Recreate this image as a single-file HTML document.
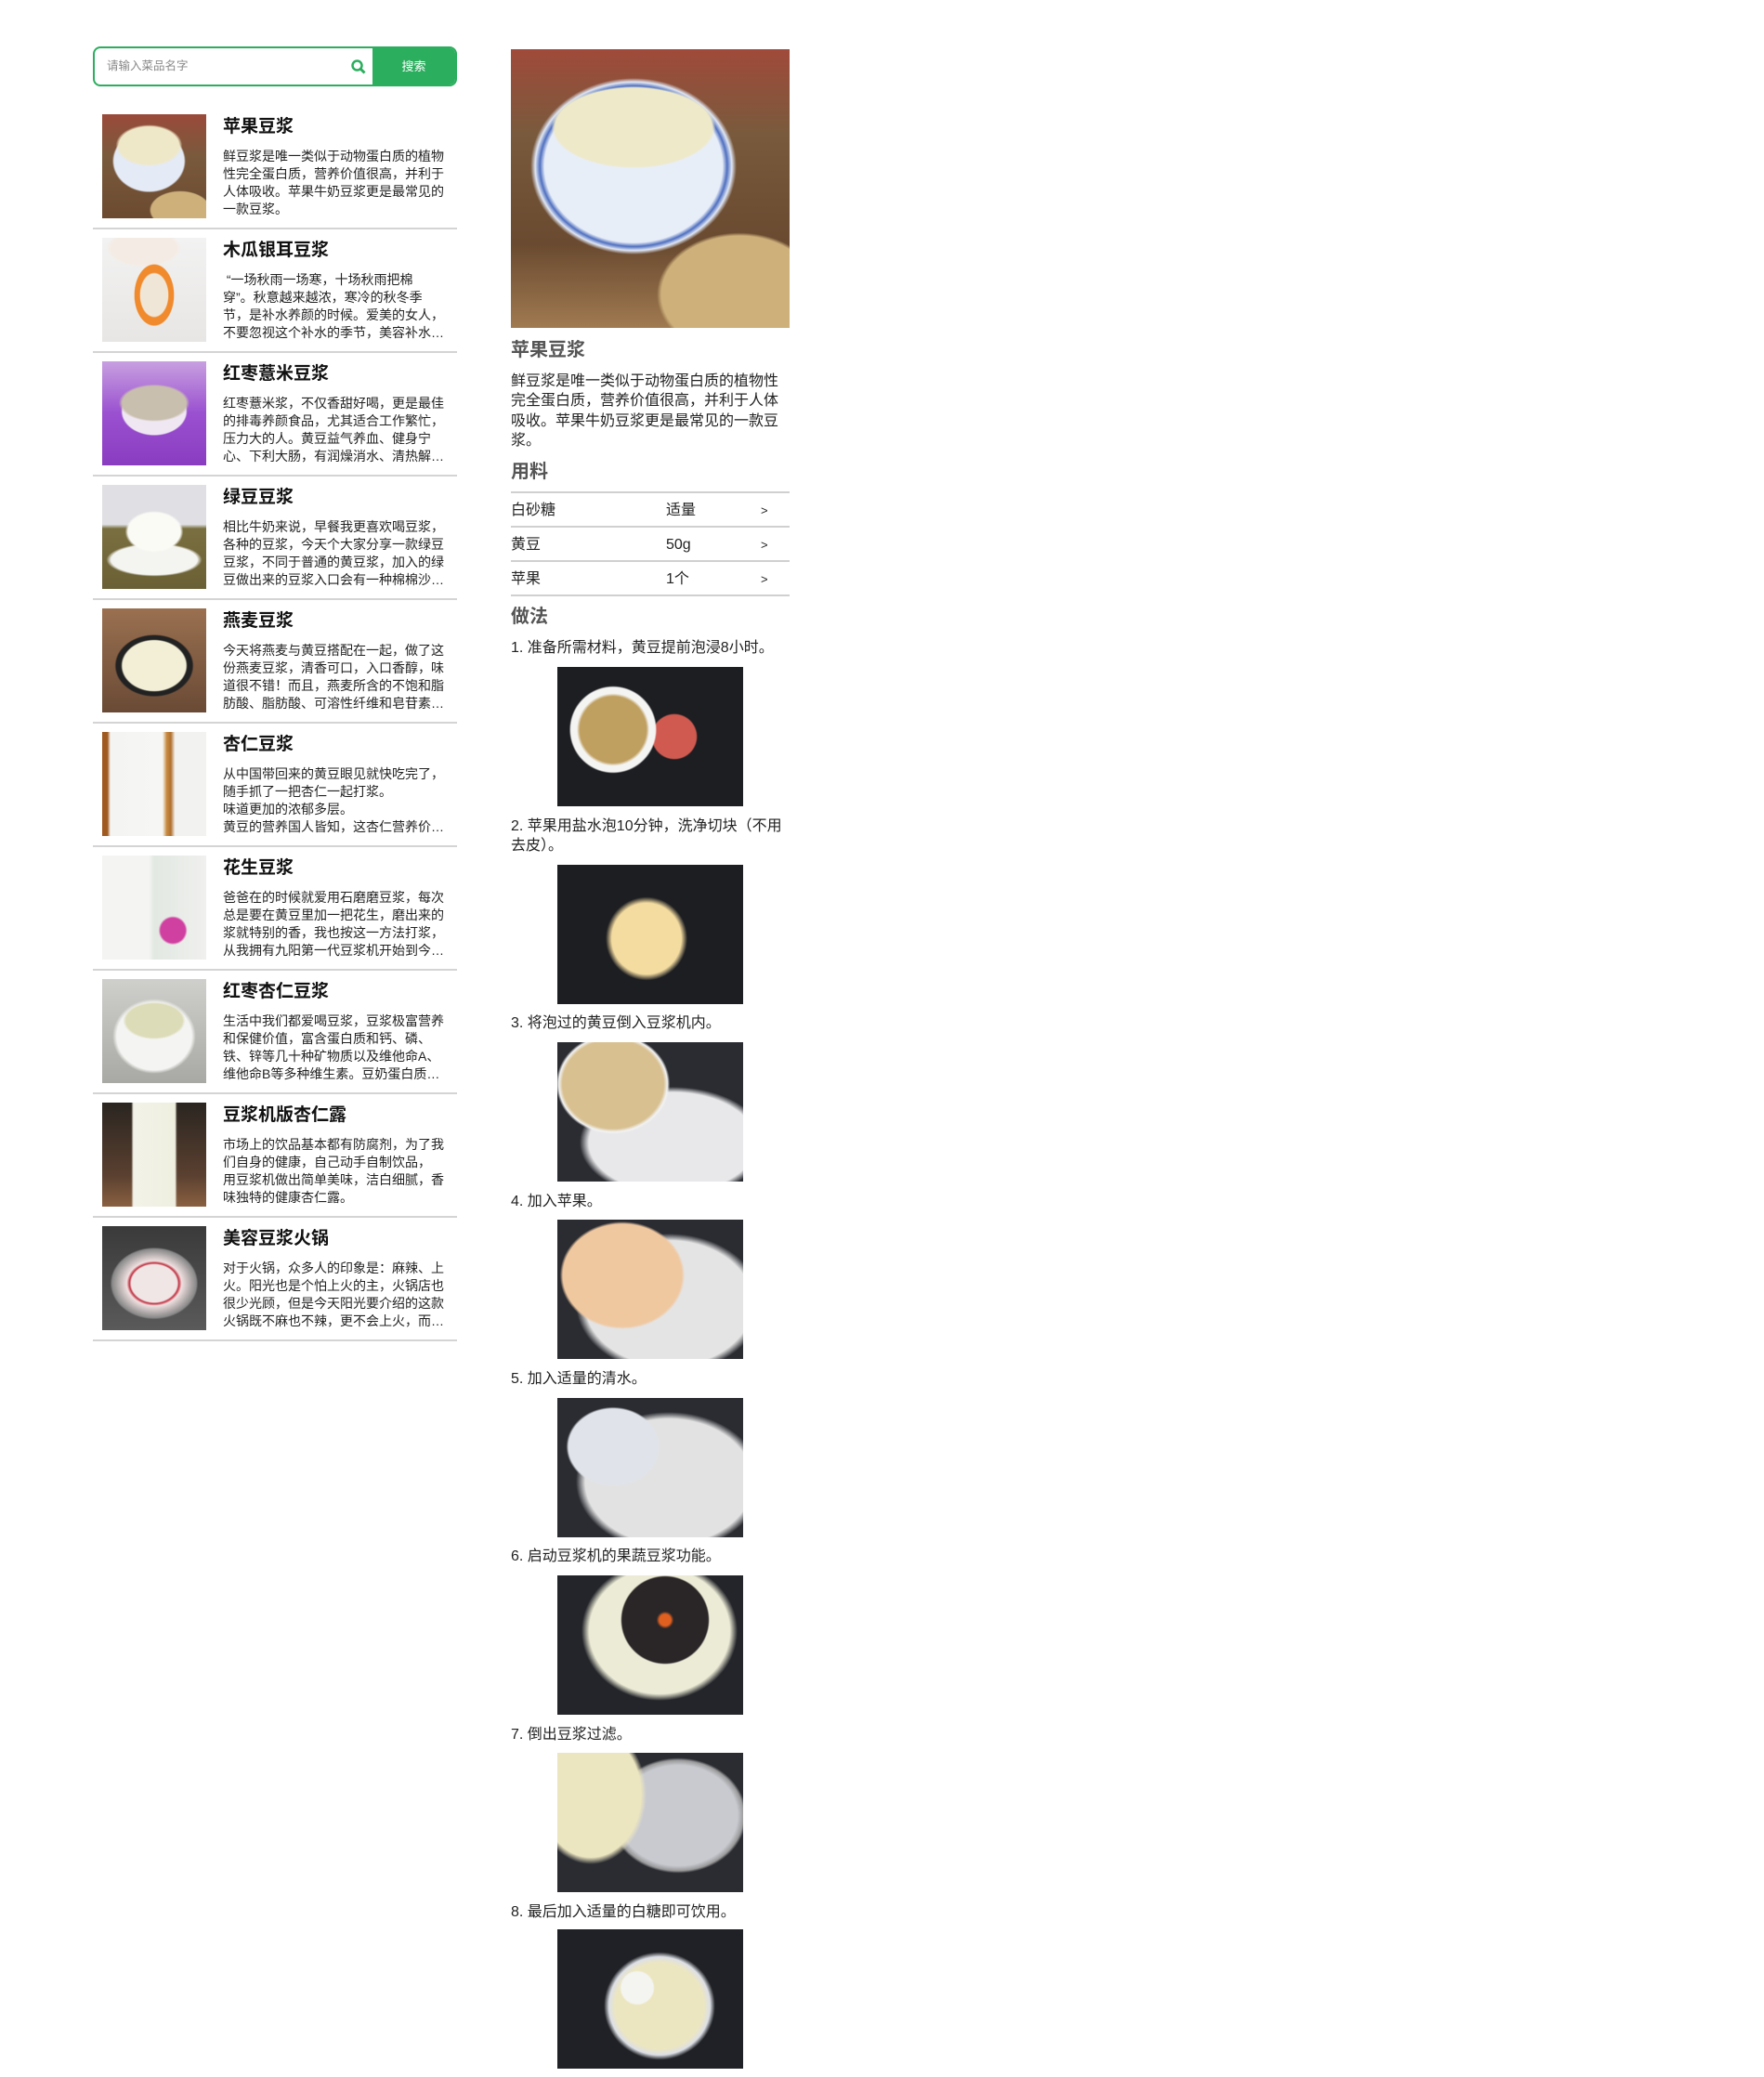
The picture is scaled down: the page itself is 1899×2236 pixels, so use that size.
<!DOCTYPE html>
<html><head><meta charset="utf-8"><style>
*{margin:0;padding:0;box-sizing:border-box}
body{width:1899px;height:2236px;background:#fff;position:relative;overflow:hidden;font-family:"Liberation Sans","Noto Sans CJK SC",sans-serif;color:#222}
.abs{position:absolute}
.search{left:100px;top:50px;width:392px;height:43px;border:2px solid #2bae5e;border-radius:8px;overflow:hidden}
.search .ph{position:absolute;left:13px;top:0;line-height:39px;font-size:12.5px;color:#888}
.search .btn{position:absolute;right:0;top:0;width:89px;height:39px;background:#2bae5e;color:#fff;font-size:13px;text-align:center;line-height:40px}
.item{position:absolute;left:100px;width:392px;height:133px;border-bottom:2px solid #d4d4d4}
.thumb{position:absolute;left:10px;top:9px;width:112px;height:112px}
.item h3{position:absolute;left:140px;top:10px;font-size:19px;line-height:26px;font-weight:bold;color:#111}
.item p{position:absolute;left:140px;top:45px;font-size:14px;line-height:19px;color:#222;white-space:nowrap}
.r{left:550px;width:300px}
.t{font-size:16px;line-height:21.3px;color:#222}
.h{font-size:20px;font-weight:bold;color:#555}
.row{position:absolute;left:550px;width:300px;height:37px;border-bottom:2px solid #d0d0d0;font-size:16px;line-height:37px}
.row span{position:absolute}
.step{position:absolute;left:600px;width:200px;height:150px;overflow:hidden}
</style></head><body>

<div class="abs search">
  <div class="ph">请输入菜品名字</div>
  <svg class="abs" style="left:275px;top:11px" width="18" height="18"><circle cx="7.5" cy="7.5" r="5" fill="none" stroke="#2bae5e" stroke-width="2.5"/><line x1="11" y1="11" x2="15.5" y2="15.5" stroke="#2bae5e" stroke-width="3"/></svg>
  <div class="btn">搜索</div>
</div>

<div class="item" style="top:114px"><div class="thumb" style="background:radial-gradient(ellipse 32% 20% at 45% 30%,#efe8c8 90%,transparent 100%),radial-gradient(ellipse 42% 36% at 45% 45%,#e4eaf6 80%,transparent 84%),radial-gradient(ellipse 40% 25% at 75% 92%,#cdb07a 70%,transparent 74%),linear-gradient(#9a4a3a,#7a5a3c 40%,#6b4a30)"></div><h3>苹果豆浆</h3><p>鲜豆浆是唯一类似于动物蛋白质的植物<br>性完全蛋白质，营养价值很高，并利于<br>人体吸收。苹果牛奶豆浆更是最常见的<br>一款豆浆。</p></div>

<div class="item" style="top:247px"><div class="thumb" style="background:radial-gradient(ellipse 22% 34% at 50% 55%,#f0e6d8 60%,#f08a2c 64%,#f08a2c 85%,transparent 88%),radial-gradient(ellipse 40% 20% at 40% 10%,#f4ece4 80%,transparent 90%),linear-gradient(#f2f2f2,#e8e6e4)"></div><h3>木瓜银耳豆浆</h3><p>&nbsp;“一场秋雨一场寒，十场秋雨把棉<br>穿”。秋意越来越浓，寒冷的秋冬季<br>节，是补水养颜的时候。爱美的女人，<br>不要忽视这个补水的季节，美容补水…</p></div>

<div class="item" style="top:380px"><div class="thumb" style="background:radial-gradient(ellipse 34% 18% at 50% 40%,#c9bfae 90%,transparent 100%),radial-gradient(ellipse 38% 28% at 50% 48%,#efe8f2 80%,transparent 84%),linear-gradient(#c8a0e0,#9a50d0 50%,#8a3cc0)"></div><h3>红枣薏米豆浆</h3><p>红枣薏米浆，不仅香甜好喝，更是最佳<br>的排毒养颜食品，尤其适合工作繁忙，<br>压力大的人。黄豆益气养血、健身宁<br>心、下利大肠，有润燥消水、清热解…</p></div>

<div class="item" style="top:513px"><div class="thumb" style="background:radial-gradient(ellipse 28% 20% at 50% 45%,#fbfbf6 90%,transparent 100%),radial-gradient(ellipse 46% 16% at 50% 72%,#f4f4f0 90%,transparent 100%),linear-gradient(#e0e0e4 38%,#7a6f40 42%,#6a6035)"></div><h3>绿豆豆浆</h3><p>相比牛奶来说，早餐我更喜欢喝豆浆，<br>各种的豆浆，今天个大家分享一款绿豆<br>豆浆，不同于普通的黄豆浆，加入的绿<br>豆做出来的豆浆入口会有一种棉棉沙…</p></div>

<div class="item" style="top:646px"><div class="thumb" style="background:radial-gradient(ellipse 38% 30% at 50% 55%,#f3efd6 80%,#222 84%,#222 96%,transparent 100%),linear-gradient(#9a7050,#6a4a35)"></div><h3>燕麦豆浆</h3><p>今天将燕麦与黄豆搭配在一起，做了这<br>份燕麦豆浆，清香可口，入口香醇，味<br>道很不错！而且，燕麦所含的不饱和脂<br>肪酸、脂肪酸、可溶性纤维和皂苷素…</p></div>

<div class="item" style="top:779px"><div class="thumb" style="background:linear-gradient(90deg,#a05a20 5%,#f4f4f2 8%,#f6f6f4 58%,#c88a40 62%,#b07030 66%,#f2f2f0 70%),linear-gradient(#c88a40,#8a4a20)"></div><h3>杏仁豆浆</h3><p>从中国带回来的黄豆眼见就快吃完了，<br>随手抓了一把杏仁一起打浆。<br>味道更加的浓郁多层。<br>黄豆的营养国人皆知，这杏仁营养价…</p></div>

<div class="item" style="top:912px"><div class="thumb" style="background:radial-gradient(circle at 68% 72%,#d040a0 12%,transparent 14%),linear-gradient(90deg,#f4f4f2 45%,#e2e8e2 50%,#f0f0ee)"></div><h3>花生豆浆</h3><p>爸爸在的时候就爱用石磨磨豆浆，每次<br>总是要在黄豆里加一把花生，磨出来的<br>浆就特别的香，我也按这一方法打浆，<br>从我拥有九阳第一代豆浆机开始到今…</p></div>

<div class="item" style="top:1045px"><div class="thumb" style="background:radial-gradient(ellipse 30% 18% at 50% 40%,#dcdcb8 90%,transparent 100%),radial-gradient(ellipse 40% 36% at 50% 55%,#f4f4f2 90%,transparent 100%),linear-gradient(#cfcfcc,#a8a8a4)"></div><h3>红枣杏仁豆浆</h3><p>生活中我们都爱喝豆浆，豆浆极富营养<br>和保健价值，富含蛋白质和钙、磷、<br>铁、锌等几十种矿物质以及维他命A、<br>维他命B等多种维生素。豆奶蛋白质…</p></div>

<div class="item" style="top:1178px"><div class="thumb" style="background:linear-gradient(90deg,transparent 28%,#f2f2e8 30%,#efefe0 70%,transparent 72%),linear-gradient(#2a2520,#5a4030 70%,#8a6040)"></div><h3>豆浆机版杏仁露</h3><p>市场上的饮品基本都有防腐剂，为了我<br>们自身的健康，自己动手自制饮品，<br>用豆浆机做出简单美味，洁白细腻，香<br>味独特的健康杏仁露。</p></div>

<div class="item" style="top:1311px"><div class="thumb" style="background:radial-gradient(ellipse 44% 36% at 50% 55%,#f0e6e6 50%,#c03040 54%,#f0e0e0 60%,#888 92%,transparent 96%),linear-gradient(#3a3a3a,#5a5a5a)"></div><h3>美容豆浆火锅</h3><p>对于火锅，众多人的印象是：麻辣、上<br>火。阳光也是个怕上火的主，火锅店也<br>很少光顾，但是今天阳光要介绍的这款<br>火锅既不麻也不辣，更不会上火，而…</p></div>

<div class="abs" style="left:550px;top:53px;width:300px;height:300px;background:radial-gradient(ellipse 32% 16% at 44% 28%,#eee9c8 88%,transparent 92%),radial-gradient(ellipse 42% 36% at 44% 42%,#e8eef8 76%,#5070c0 80%,#dfe6f4 84%,transparent 88%),radial-gradient(ellipse 40% 30% at 82% 88%,#cdb07a 70%,transparent 74%),linear-gradient(#a04a3a,#7a5a3c 30%,#6a4a30 70%,#a07a50)"></div>
<div class="abs r h" style="top:363px;line-height:28px">苹果豆浆</div>
<div class="abs r t" style="top:400px">鲜豆浆是唯一类似于动物蛋白质的植物性完全蛋白质，营养价值很高，并利于人体吸收。苹果牛奶豆浆更是最常见的一款豆浆。</div>
<div class="abs r h" style="top:494px;line-height:28px">用料</div>
<div class="abs" style="left:550px;top:529px;width:300px;border-top:2px solid #d0d0d0"></div>
<div class="row" style="top:531px"><span style="left:0">白砂糖</span><span style="left:167px">适量</span><span style="left:269px;font-size:13px">&gt;</span></div>
<div class="row" style="top:568px"><span style="left:0">黄豆</span><span style="left:167px">50g</span><span style="left:269px;font-size:13px">&gt;</span></div>
<div class="row" style="top:605px"><span style="left:0">苹果</span><span style="left:167px">1个</span><span style="left:269px;font-size:13px">&gt;</span></div>
<div class="abs r h" style="top:650px;line-height:28px">做法</div>

<div class="abs r t" style="top:687px">1. 准备所需材料，黄豆提前泡浸8小时。</div>
<div class="step" style="top:718px;background:radial-gradient(circle at 30% 45%,#c0a060 22%,#f4f4f2 24%,#f4f4f2 28%,transparent 29%),radial-gradient(circle at 63% 50%,#d05a50 16%,transparent 17%),#1d1e22"></div>
<div class="abs r t" style="top:879px">2. 苹果用盐水泡10分钟，洗净切块（不用去皮）。</div>
<div class="step" style="top:931px;background:radial-gradient(ellipse 22% 30% at 48% 53%,#f4dca0 85%,transparent 100%),#1d1e22"></div>
<div class="abs r t" style="top:1091px">3. 将泡过的黄豆倒入豆浆机内。</div>
<div class="step" style="top:1122px;background:radial-gradient(ellipse 34% 40% at 30% 30%,#d8c090 80%,#f2f2f2 86%,transparent 90%),radial-gradient(ellipse 50% 40% at 62% 72%,#e8e8ea 90%,transparent 100%),#2a2c32"></div>
<div class="abs r t" style="top:1283px">4. 加入苹果。</div>
<div class="step" style="top:1313px;background:radial-gradient(ellipse 40% 46% at 35% 40%,#f0c8a0 80%,transparent 84%),radial-gradient(ellipse 50% 50% at 60% 60%,#e4e4e4 90%,transparent 100%),#2a2c32"></div>
<div class="abs r t" style="top:1474px">5. 加入适量的清水。</div>
<div class="step" style="top:1505px;background:radial-gradient(ellipse 30% 34% at 30% 35%,#e0e4ea 80%,transparent 84%),radial-gradient(ellipse 50% 50% at 60% 60%,#e2e2e2 90%,transparent 100%),#2a2c32"></div>
<div class="abs r t" style="top:1665px">6. 启动豆浆机的果蔬豆浆功能。</div>
<div class="step" style="top:1696px;background:radial-gradient(circle at 58% 32%,#e06020 4%,#2a2628 6%,#2a2628 30%,transparent 31%),radial-gradient(ellipse 42% 50% at 55% 40%,#ecebd6 90%,transparent 100%),#23252a"></div>
<div class="abs r t" style="top:1857px">7. 倒出豆浆过滤。</div>
<div class="step" style="top:1887px;background:radial-gradient(ellipse 30% 50% at 18% 30%,#ece6c0 90%,transparent 100%),radial-gradient(ellipse 40% 45% at 65% 45%,#c8cad0 80%,#9a9a9a 88%,transparent 92%),#2a2c32"></div>
<div class="abs r t" style="top:2048px">8. 最后加入适量的白糖即可饮用。</div>
<div class="step" style="top:2077px;background:radial-gradient(circle at 43% 42%,#f4f4f0 12%,transparent 13%),radial-gradient(ellipse 34% 44% at 55% 55%,#ece6c0 70%,#dde0e6 80%,transparent 88%),#1f2126"></div>
</body></html>
